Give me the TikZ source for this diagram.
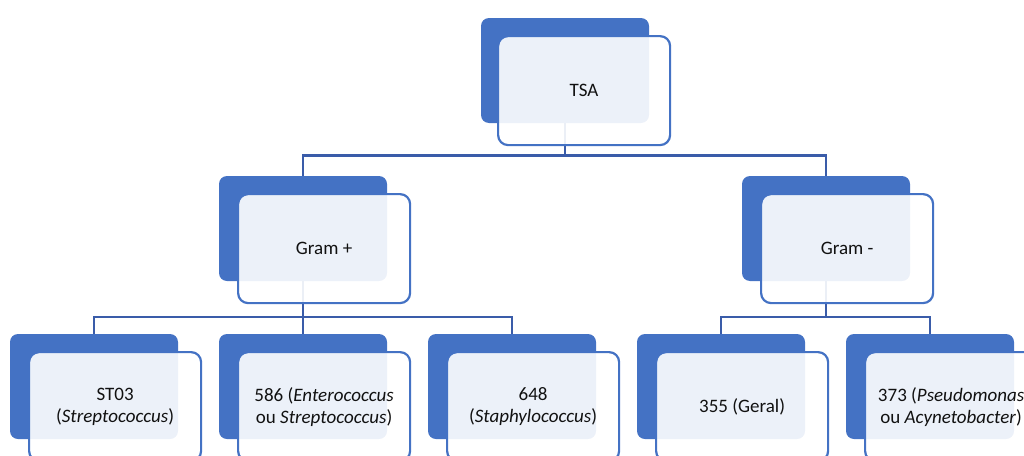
\documentclass[tikz,border=0pt]{standalone}
\usepackage{fontspec}
\setmainfont{Carlito}
\usetikzlibrary{positioning}
\definecolor{smblue}{HTML}{4472C4}
\definecolor{smline}{HTML}{3A5CA9}
\definecolor{smtext}{HTML}{111111}
\pgfdeclarelayer{background}
\pgfsetlayers{background,main}

\begin{document}
\begin{tikzpicture}[
    x=1pt, y=-1pt,
    back/.style={rectangle, fill=smblue, rounded corners=8pt, minimum width=168pt, minimum height=105pt, inner sep=0pt, outer sep=0pt},
    front/.style={rectangle, draw=smblue, line width=2.2pt, fill=white, fill opacity=0.9, text opacity=1, rounded corners=10pt, minimum width=172pt, minimum height=109pt, anchor=north west, align=center, text=smtext, font=\fontsize{19}{22}\selectfont},
    conn/.style={draw=smline, line width=2.2pt},
    node distance=41pt
]
\useasboundingbox (0,0) rectangle (1024,455);
\clip (0,0) rectangle (1024,455);

% Back boxes
\node[back] (tsa-b) at (565,70.5) {};
\node[back] (gp-b) at (303,228.5) {};
\node[back] (gm-b) at (826,228.5) {};
\node[back] (l1-b) at (94,386.5) {};
\node[back, right=of l1-b] (l2-b) {};
\node[back, right=of l2-b] (l3-b) {};
\node[back, right=of l3-b] (l4-b) {};
\node[back, right=of l4-b] (l5-b) {};

% Front boxes with text
\node[front] (tsa) at ([shift={(16,17)}]tsa-b.north west) {TSA};
\node[front] (gp) at ([shift={(18,17)}]gp-b.north west) {Gram +};
\node[front] (gm) at ([shift={(18,17)}]gm-b.north west) {Gram -};
\node[front] (l1) at ([shift={(18,17)}]l1-b.north west) {ST03\\(\textit{Streptococcus})};
\node[front] (l2) at ([shift={(18,17)}]l2-b.north west) {586 (\textit{Enterococcus}\\ou \textit{Streptococcus})};
\node[front] (l3) at ([shift={(18,17)}]l3-b.north west) {648\\(\textit{Staphylococcus})};
\node[front] (l4) at ([shift={(18,17)}]l4-b.north west) {355 (Geral)};
\node[front] (l5) at ([shift={(18,17)}]l5-b.north west) {373 (\textit{Pseudomonas}\\ou \textit{Acynetobacter})};

% Connectors
\begin{pgfonlayer}{background}
\path (tsa-b.center) ++(0,85) coordinate (bus1);
\path (gp-b.center) ++(0,88.5) coordinate (bus2);
\path (gm-b.center) ++(0,88.5) coordinate (bus3);
\draw[conn] (tsa-b.center) -- (bus1);
\foreach \c in {gp,gm}
    \draw[conn] (bus1) -| (\c-b.north);
\draw[conn] (gp-b.center) -- (bus2);
\foreach \c in {l1,l2,l3}
    \draw[conn] (bus2) -| (\c-b.north);
\draw[conn] (gm-b.center) -- (bus3);
\foreach \c in {l4,l5}
    \draw[conn] (bus3) -| (\c-b.north);
\end{pgfonlayer}

\end{tikzpicture}
\end{document}
